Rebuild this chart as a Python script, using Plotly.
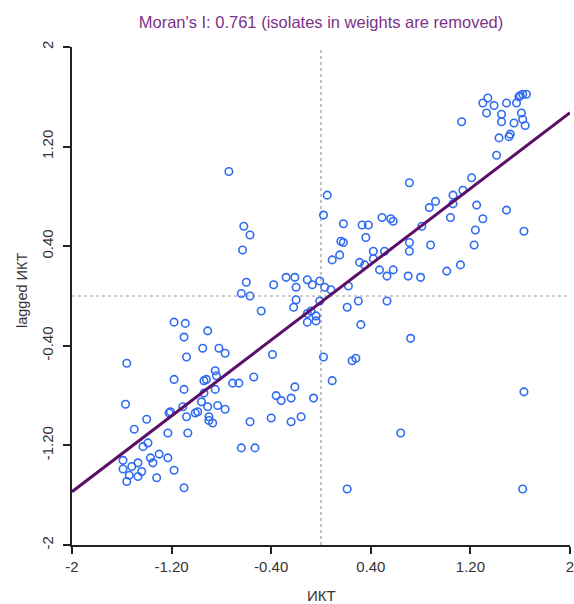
import plotly.graph_objects as go

# ---- data ----
x_ikt = [
    -1.18, -1.09, -1.10, -0.91, -0.95, -0.82, -0.77, -1.08, -1.56, -1.18,
    -1.10, -0.94, -0.92, -0.85, -0.84, -0.85, -0.71, -0.66, -0.94, -0.96,
    -0.91, -0.83, -0.77, -1.57, -1.11, -1.22, -1.21, -1.08, -1.01, -0.99,
    -0.90, -0.90, -0.87, -1.40, -1.50, -1.23, -1.07, -1.39, -1.43, -1.30,
    -1.37, -1.35, -1.23, -1.59, -1.59, -1.52, -1.47, -1.47, -1.44, -1.54,
    -1.56, -1.18, -1.32, -1.10,
    -0.48, -0.22, -0.20, -0.11, -0.08, -0.11, -0.04, -0.04, -0.39, 0.02,
    -0.54, -0.36, -0.32, -0.24, -0.21, -0.06, -0.57, -0.40, -0.24, -0.16,
    -0.64, -0.53, 0.09,
    -0.74, 0.05, 0.02, -0.62, -0.57, -0.63, 0.09, -0.60, -0.38, -0.28,
    -0.21, -0.20, -0.11, -0.07, -0.01, 0.03, -0.64, -0.57, 0.08, 0.22,
    -0.01, 0.30, 0.21, 0.32, 0.15, 0.31, 0.35,
    0.71, 0.18, 0.33, 0.38, 0.49, 0.56, 0.58, 0.87, 0.92, 0.16,
    0.18, 0.36, 0.42, 0.51, 0.42, 0.71, 0.71, 0.81, 0.88, 1.01,
    1.04, 0.47, 0.53, 0.58, 0.70, 0.80, 0.53, 0.72,
    1.34, 1.30, 1.39, 1.33, 1.49, 1.57, 1.59, 1.60, 1.62, 1.65,
    1.45, 1.61, 1.45, 1.55, 1.62, 1.64, 1.13, 1.43, 1.51, 1.52,
    1.41, 1.21, 1.14, 1.06, 1.06, 1.25, 1.30, 1.49, 1.24, 1.63,
    1.23, 1.12,
    0.25, 0.28, 1.63, 0.64, 0.21, 1.62,
]
y_lag = [
    -0.21, -0.22, -0.33, -0.28, -0.42, -0.42, -0.46, -0.49, -0.54, -0.67,
    -0.75, -0.68, -0.67, -0.60, -0.64, -0.75, -0.70, -0.70, -0.78, -0.85,
    -0.89, -0.88, -0.91, -0.87, -0.89, -0.94, -0.93, -0.97, -0.94, -0.93,
    -0.97, -1.00, -1.02, -0.99, -1.07, -1.10, -1.10, -1.18, -1.21, -1.27,
    -1.30, -1.34, -1.30, -1.32, -1.39, -1.37, -1.34, -1.45, -1.41, -1.44,
    -1.49, -1.40, -1.46, -1.54,
    -0.12, -0.09, -0.03, -0.14, -0.12, -0.21, -0.16, -0.20, -0.47, -0.49,
    -0.65, -0.80, -0.84, -0.82, -0.73, -0.82, -1.01, -0.98, -1.01, -0.97,
    -1.22, -1.22, -0.68,
    1.00, 0.81, 0.65, 0.56, 0.49, 0.37, 0.29, 0.11, 0.09, 0.15,
    0.15, 0.07, 0.13, 0.09, 0.12, 0.07, 0.02, 0.00, 0.05, 0.08,
    -0.04, -0.04, -0.09, -0.23, 0.33, 0.27, 0.25,
    0.91, 0.58, 0.57, 0.57, 0.63, 0.62, 0.60, 0.71, 0.76, 0.44,
    0.43, 0.47, 0.36, 0.36, 0.30, 0.43, 0.36, 0.56, 0.41, 0.20,
    0.63, 0.21, 0.16, 0.21, 0.16, 0.15, -0.04, -0.34,
    1.59, 1.55, 1.53, 1.47, 1.55, 1.55, 1.60, 1.61, 1.62, 1.62,
    1.46, 1.47, 1.40, 1.39, 1.42, 1.37, 1.40, 1.27, 1.28, 1.30,
    1.13, 0.95, 0.85, 0.81, 0.74, 0.73, 0.62, 0.69, 0.53, 0.52,
    0.41, 0.25,
    -0.52, -0.50, -0.77, -1.10, -1.55, -1.55,
]
morans_i = 0.761
intercept = -0.05
axis_range = [-2, 2]
tick_vals = [-2, -1.2, -0.4, 0.4, 1.2, 2]
tick_text = ["-2", "-1.20", "-0.40", "0.40", "1.20", "2"]
title_text = "Moran's I: 0.761 (isolates in weights are removed)"
x_title = "ИКТ"
y_title = "lagged ИКТ"

FONT = "Liberation Sans, Arial, sans-serif"

fig = go.Figure()

# dashed reference lines at zero
fig.add_trace(go.Scatter(x=[0, 0], y=axis_range, mode="lines",
                         line=dict(color="#9a9a9a", width=1.2, dash="3px,3px"),
                         hoverinfo="skip", showlegend=False))
fig.add_trace(go.Scatter(x=axis_range, y=[0, 0], mode="lines",
                         line=dict(color="#9a9a9a", width=1.2, dash="3px,3px"),
                         hoverinfo="skip", showlegend=False))

# points
fig.add_trace(go.Scatter(x=x_ikt, y=y_lag, mode="markers",
                         marker=dict(symbol="circle-open", size=7.5,
                                     color="#2f6cf0", line=dict(width=1.6, color="#2f6cf0")),
                         showlegend=False))

# regression line
line_x = axis_range
line_y = [intercept + morans_i * v for v in line_x]
fig.add_trace(go.Scatter(x=line_x, y=line_y, mode="lines",
                         line=dict(color="#5c0f68", width=3),
                         showlegend=False))

axis_common = dict(
    range=axis_range, tickvals=tick_vals, ticktext=tick_text,
    showgrid=False, zeroline=False, showline=True, linecolor="#222",
    linewidth=1.5, ticks="outside", ticklen=7, tickwidth=1.5, tickcolor="#222",
    tickfont=dict(family=FONT, size=15, color="#333"), automargin=False,
)

fig.update_layout(
    width=574, height=604,
    margin=dict(l=72, r=4, t=47, b=59),
    paper_bgcolor="white", plot_bgcolor="white",
    xaxis=dict(**axis_common, ticklabeloverflow="allow"),
    yaxis=dict(**axis_common, tickangle=-90, ticklabelstandoff=4),
    title=dict(text=title_text, x=0.5, xref="paper", y=1 - 22 / 604,
               yref="container", xanchor="center", yanchor="middle",
               font=dict(family=FONT, size=16.5, color="#7b3289")),
    annotations=[
        dict(text=x_title, xref="paper", yref="paper", x=0.5, y=-50 / 498,
             xanchor="center", yanchor="middle", showarrow=False,
             font=dict(family=FONT, size=15, color="#333")),
        dict(text=y_title, xref="paper", yref="paper", x=-50 / 498, y=0.51,
             xanchor="center", yanchor="middle", textangle=-90, showarrow=False,
             font=dict(family=FONT, size=14.5, color="#333")),
    ],
)

fig.write_html("out.html")
